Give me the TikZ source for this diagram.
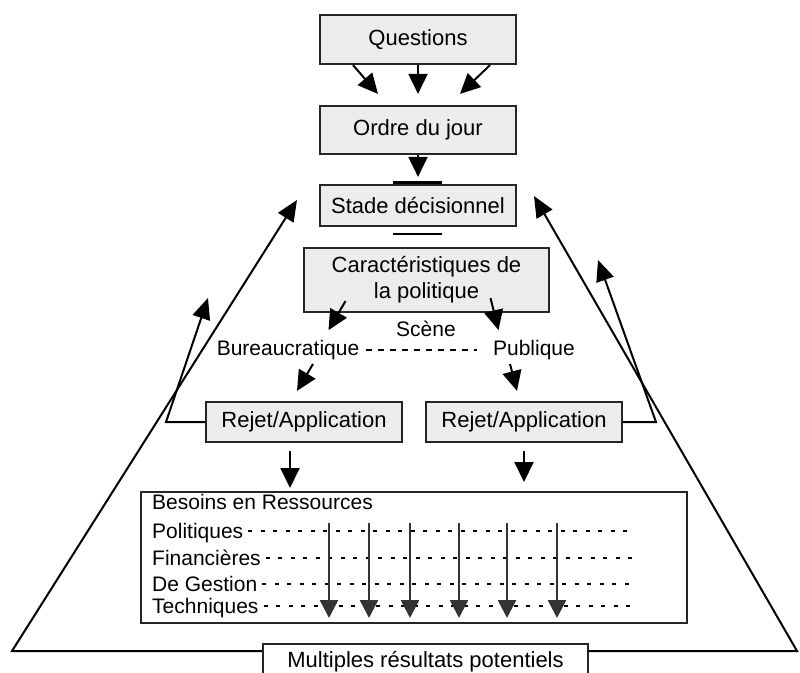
\documentclass[tikz,border=0pt]{standalone}
\usepackage{fontspec}
\setmainfont{Liberation Sans}
\usetikzlibrary{arrows.meta,calc}
\begin{document}
\begin{tikzpicture}[x=1pt,y=-1pt,
  box/.style={draw=black!85,line width=2.2pt,fill=gray!15,inner sep=0pt,font=\fontsize{22}{26}\selectfont,align=center},
  plain/.style={draw=black!85,line width=2.2pt,inner sep=0pt},
  lbl/.style={inner sep=0pt,font=\fontsize{21}{24}\selectfont},
  row/.style={inner sep=0pt,anchor=base west,font=\fontsize{21}{24}\selectfont},
  arr/.style={line width=2pt,-{Triangle[length=20pt,width=19pt]}},
  fb/.style={line width=2pt,-{Triangle[length=21pt,width=18pt]}},
  varr/.style={line width=2.6pt,draw=black!80,-{Triangle[length=18pt,width=18pt]}},
  dots/.style={line width=1.5pt,dash pattern=on 4pt off 8.5pt}]
\useasboundingbox (0,0) rectangle (800,672);

% boxes
\node[box,minimum width=196pt,minimum height=49pt] (q) at (418,39.5) {Questions};
\node[box,minimum width=196pt,minimum height=48pt] (o) at (418,130) {Ordre du jour};
\node[box,minimum width=196pt,minimum height=41pt] (s) at (418,205.5) {Stade décisionnel};
\node[box,minimum width=245pt,minimum height=64pt] (c) at (426.5,280) {Caractéristiques de\\la politique};
\node[box,minimum width=196pt,minimum height=40pt] (r1) at (304,422) {Rejet/Application};
\node[box,minimum width=196pt,minimum height=40pt] (r2) at (524,422) {Rejet/Application};
\node[plain,minimum width=546pt,minimum height=131pt] (b) at (414,557.5) {};
\node[box,fill=white,minimum width=325pt,minimum height=40pt,anchor=north,text depth=0pt] (m) at (425.5,643) {\raisebox{9pt}{Multiples résultats potentiels}};

% stade short lines
\coordinate (sa1) at ([xshift=-25pt,yshift=1.5pt]s.north);
\coordinate (sa2) at ([xshift=24pt,yshift=1.5pt]s.north);
\coordinate (sb1) at ([xshift=-25pt,yshift=-7pt]s.south);
\coordinate (sb2) at ([xshift=24pt,yshift=-7pt]s.south);
\draw[line width=2.2pt] (sa1) -- (sa2);
\draw[line width=2.2pt] (sb1) -- (sb2);

% labels
\node[lbl] (scene) at (426,329) {Scène};
\node[lbl] (bur) at (288,350) {Bureaucratique};
\node[lbl] (pub) at (534,350) {Publique};
\draw[line width=1.5pt,dash pattern=on 6pt off 6pt] ([xshift=7pt]bur.east) -- ([xshift=-16pt]pub.west);

% arrows top
\draw[arr] ([xshift=-65pt]q.south) -- ([xshift=-40pt,yshift=11pt]o.north);
\draw[arr] (q.south) -- ([yshift=11pt]o.north);
\draw[arr] ([xshift=72pt]q.south) -- ([xshift=42pt,yshift=11pt]o.north);
\draw[arr] (o.south) -- ([yshift=7pt]s.north);

% arrows from characteristics
\draw[arr] ([xshift=-81pt,yshift=12pt]c.south) -- ([xshift=-98pt,yshift=-17pt]c.south);
\draw[arr] ([xshift=64pt,yshift=15pt]c.south) -- ([xshift=72pt,yshift=-17pt]c.south);
\draw[arr] ([xshift=25pt,yshift=-4pt]bur.south) -- ([xshift=-7pt,yshift=10pt]r1.north);
\draw[arr] ([xshift=-24pt,yshift=-4pt]pub.south) -- ([xshift=-7pt,yshift=10pt]r2.north);

% arrows to needs box
\coordinate (bl) at (290,492);
\coordinate (br) at (524,492);
\draw[arr] ([xshift=-14pt,yshift=-8pt]r1.south) -- ([yshift=4pt]bl);
\draw[arr] ([yshift=-8pt]r2.south) -- ([yshift=10pt]br);

% feedback loops
\coordinate (lc) at (166,422);
\coordinate (lt) at (208,298);
\coordinate (rc) at (656,422);
\coordinate (rt) at (598,260);
\draw[fb] (r1.west) -- (lc) -- (lt);
\draw[fb] (r2.east) -- (rc) -- (rt);
\coordinate (olc) at (12,651);
\coordinate (olt) at (297,200);
\coordinate (orc) at (797,651);
\coordinate (ort) at (534,196);
\draw[fb] ([yshift=-8pt]m.north west) -- (olc) -- (olt);
\draw[fb] ([yshift=-8pt]m.north east) -- (orc) -- (ort);

% needs rows
\node[row] (bes) at (152,509) {Besoins en Ressources};
\node[row] (p1) at (152,538) {Politiques};
\node[row] (p2) at (152,565) {Financières};
\node[row] (p3) at (152,591) {De Gestion};
\node[row] (p4) at (152,613) {Techniques};
\coordinate (e1) at (628,531);
\coordinate (e2) at (633,558);
\coordinate (e3) at (632,584);
\coordinate (e4) at (633,606);
\draw[dots] ([xshift=5pt]p1.east |- e1) -- (e1);
\draw[dots] ([xshift=5pt]p2.east |- e2) -- (e2);
\draw[dots] ([xshift=5pt]p3.east |- e3) -- (e3);
\draw[dots] ([xshift=5pt]p4.east |- e4) -- (e4);
\foreach \xx [count=\i] in {329,369,410,459,507,557}{
  \coordinate (vt\i) at (\xx,523);
  \coordinate (vb\i) at (\xx,618);
  \draw[varr] (vt\i) -- (vb\i);
}
\end{tikzpicture}
\end{document}
